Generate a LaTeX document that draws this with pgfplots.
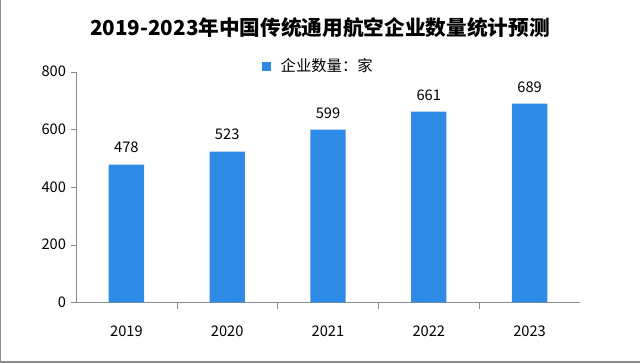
\documentclass[border=0pt]{standalone}
\usepackage{fontspec}
\setmainfont{Noto Sans CJK SC}
\usepackage{pgfplots}
\pgfplotsset{compat=1.18}
\definecolor{barblue}{RGB}{46,140,230}
\definecolor{axgray}{RGB}{140,140,140}
\begin{document}
\begin{tikzpicture}[x=0.75pt,y=0.75pt]
\useasboundingbox (0,0) rectangle (640,363);
\draw[axgray,line width=1pt] (0.5,363) -- (0.5,1) -- (640,1);
\node[font=\fontsize{15.5}{18}\selectfont\bfseries] at (320,335) {2019-2023年中国传统通用航空企业数量统计预测};
\fill[barblue] (262,292) rectangle (271,301);
\node[font=\fontsize{11.5}{14}\selectfont,anchor=west] at (276,297) {企业数量：家};
\begin{axis}[
  at={(57pt,45.5pt)}, anchor=south west,
  scale only axis, width=378pt, height=173pt,
  xmin=-0.5, xmax=4.5, ymin=0, ymax=800,
  axis x line*=bottom, axis y line*=left,
  axis line style={axgray},
  xtick={0,1,2,3,4},
  xticklabels={2019,2020,2021,2022,2023},
  minor xtick={0.5,1.5,2.5,3.5},
  major x tick style={draw=none},
  minor tick length=5pt,
  ytick={0,200,400,600,800},
  tick align=outside,
  major tick length=4pt,
  tick style={axgray},
  xticklabel style={yshift=-10pt},
  ticklabel style={font=\fontsize{11}{13}\selectfont},
  /pgf/number format/assume math mode=true,
  ybar, bar width=26.5pt,
  nodes near coords,
  every node near coord/.append style={font=\fontsize{11}{13}\selectfont, yshift=5pt},
  enlargelimits=false,
  clip=false,
]
\addplot[fill=barblue, draw=none] coordinates {(0,478) (1,523) (2,599) (3,661) (4,689)};
\end{axis}
\end{tikzpicture}
\end{document}
